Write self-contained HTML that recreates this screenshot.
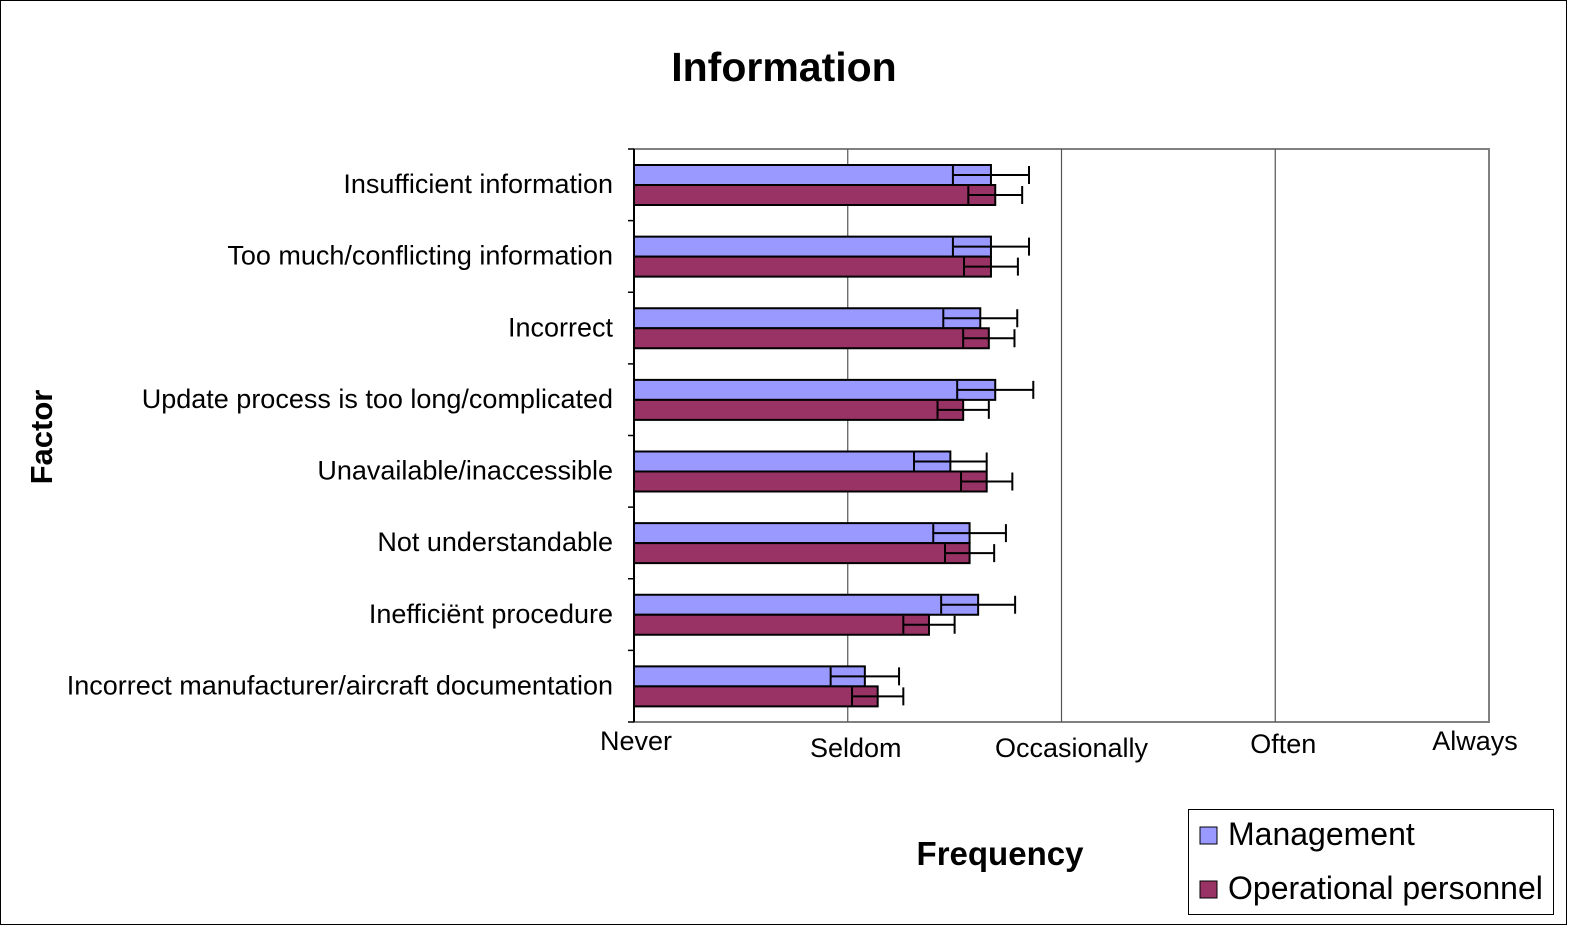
<!DOCTYPE html>
<html><head><meta charset="utf-8"><style>
body{margin:0;background:#fff}
svg{display:block;font-family:"Liberation Sans",sans-serif}
</style></head><body>
<svg id="c" width="1583" height="935">
<rect x="0.5" y="0.5" width="1566" height="924" fill="#fff" stroke="#000"/>
<text x="784" y="81" font-size="41" font-weight="bold" text-anchor="middle">Information</text>
<text transform="translate(52,437) rotate(-90)" font-size="31" font-weight="bold" text-anchor="middle">Factor</text>
<text x="1000" y="865" font-size="33" font-weight="bold" text-anchor="middle">Frequency</text>
<g id="plot"></g>
<g>
<rect x="1188.5" y="809.5" width="365" height="105" fill="#fff" stroke="#000"/>
<rect x="1200" y="827" width="17" height="17" fill="#9999ff" stroke="#000"/>
<text x="1228" y="845" font-size="32">Management</text>
<rect x="1200" y="881" width="17" height="17" fill="#993366" stroke="#000"/>
<text x="1228" y="899" font-size="32">Operational personnel</text>
</g>
</svg>
<script>
const categories=["Insufficient information","Too much/conflicting information","Incorrect","Update process is too long/complicated","Unavailable/inaccessible","Not understandable","Inefficiënt procedure","Incorrect manufacturer/aircraft documentation"];
const management=[1.67,1.67,1.62,1.69,1.48,1.57,1.61,1.08];
const managementErr=[0.178,0.178,0.173,0.178,0.17,0.17,0.173,0.16];
const operational=[1.69,1.67,1.66,1.54,1.65,1.57,1.38,1.14];
const operationalErr=[0.126,0.126,0.12,0.12,0.12,0.115,0.12,0.12];
const tickLabels=["Never","Seldom","Occasionally","Often","Always"];

const NS="http://www.w3.org/2000/svg";
const g=document.getElementById('plot');
const X0=634,X1=1489,Y0=149,Y1=722;
const xs=v=>X0+v/4*(X1-X0);
const band=(Y1-Y0)/categories.length;
function mk(t,a,p){const e=document.createElementNS(NS,t);for(const k in a)e.setAttribute(k,a[k]);(p||g).appendChild(e);return e;}
const frame=mk('rect',{x:X0,y:Y0,width:X1-X0,height:Y1-Y0,fill:'#fff',stroke:'#808080','stroke-width':2});


const tickDy=[20,27,27,23,20];
tickLabels.forEach((t,i)=>{
  const x=xs(i);
  if(i>0&&i<4){const l=mk('line',{x1:x,x2:x,y1:Y0,y2:Y1,stroke:'#555','stroke-width':1.2});
    
    }
  const tx=mk('text',{x:i==0?x+2:x+(i==4?-14:(i==2?10:8)),y:Y1+tickDy[i]+8,'font-size':27,'text-anchor':'middle'});
  tx.textContent=t;
  
  
});
const ax=mk('line',{x1:X0,x2:X0,y1:Y0,y2:Y1,stroke:'#000','stroke-width':2});


for(let i=0;i<=categories.length;i++){const y=Y0+i*band;
  const t=mk('line',{x1:X0-6,x2:X0,y1:y,y2:y,stroke:'#000','stroke-width':1.5});
  
  }
function bar(v,e,y,fill,name){
  const r=mk('rect',{x:X0,y:y,width:xs(v)-X0,height:20,fill:fill,stroke:'#000','stroke-width':2});
  
  
  const cy=y+10,a=xs(v-e),b=xs(v+e);
  const eb=mk('path',{d:`M${a},${cy}H${b}M${a},${cy-9}V${cy+9}M${b},${cy-9}V${cy+9}`,stroke:'#000','stroke-width':2,fill:'none'});
  
  
}
categories.forEach((c,i)=>{
  const y=Y0+i*band;
  bar(management[i],managementErr[i],y+16,'#9999ff','bar-management');
  bar(operational[i],operationalErr[i],y+36,'#993366','bar-operational');
  const t=mk('text',{x:613,y:y+44,'font-size':27,'text-anchor':'end'});
  t.textContent=c;
  
  
});
</script>
</body></html>
